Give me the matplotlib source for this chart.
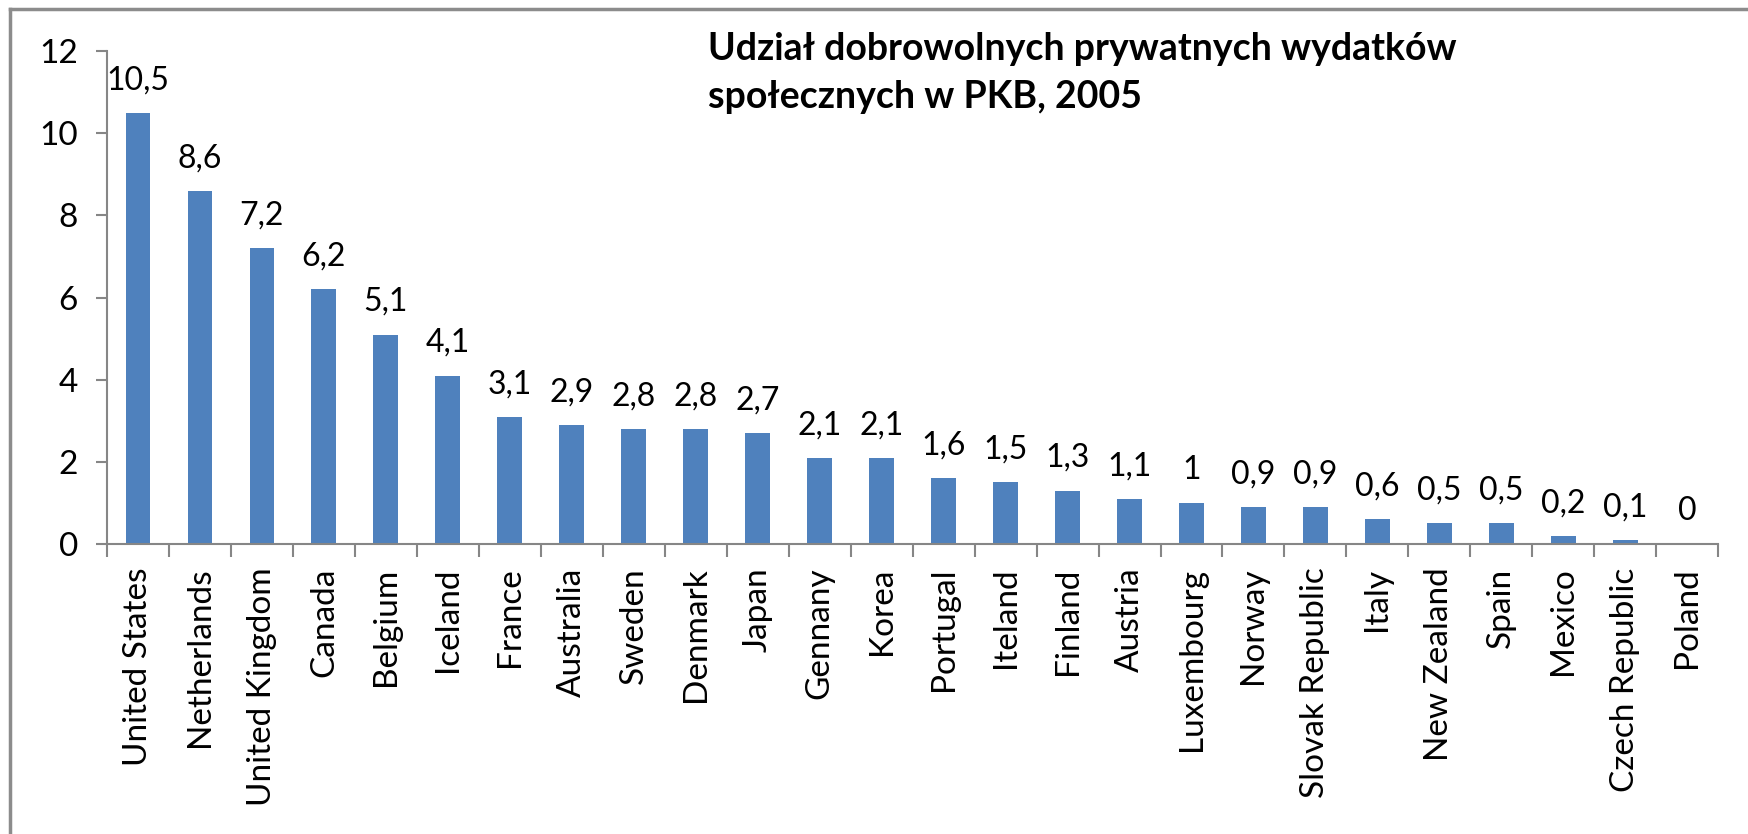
import numpy as np
import matplotlib.pyplot as plt
from matplotlib.lines import Line2D

countries = ['United States', 'Netherlands', 'United Kingdom', 'Canada', 'Belgium',
             'Iceland', 'France', 'Australia', 'Sweden', 'Denmark', 'Japan',
             'Gennany', 'Korea', 'Portugal', 'Iteland', 'Finland', 'Austria',
             'Luxembourg', 'Norway', 'Slovak Republic', 'Italy', 'New Zealand',
             'Spain', 'Mexico', 'Czech Republic', 'Poland']
values = [10.5, 8.6, 7.2, 6.2, 5.1, 4.1, 3.1, 2.9, 2.8, 2.8, 2.7, 2.1, 2.1,
          1.6, 1.5, 1.3, 1.1, 1.0, 0.9, 0.9, 0.6, 0.5, 0.5, 0.2, 0.1, 0.0]
yticks = [0, 2, 4, 6, 8, 10, 12]
title = 'Udział dobrowolnych prywatnych wydatków\nspołecznych w PKB, 2005'

plt.rcParams['font.family'] = ['Lato', 'DejaVu Sans']
grey = '#868686'

fig = plt.figure(figsize=(17.48, 8.34), dpi=100)
ax = fig.add_axes([0.0612, 0.3477, 0.9218, 0.5911])

x = np.arange(len(countries))
ax.bar(x, values, width=0.4, color='#4F81BD')

ax.set_xlim(-0.5, len(countries) - 0.5)
ax.set_ylim(0, 12)
ax.set_yticks(yticks)
ax.set_yticklabels([str(t) for t in yticks], fontsize=24)
ax.set_xticks(x)
ax.set_xticklabels(countries, rotation=90, fontsize=24)
ax.tick_params(axis='x', length=0, pad=17)
ax.set_xticks(np.arange(len(countries) + 1) - 0.5, minor=True)
ax.tick_params(axis='x', which='minor', length=9, color=grey, width=1.5)
ax.tick_params(axis='y', length=8, color=grey, width=1.5, pad=13)

for s in ['top', 'right']:
    ax.spines[s].set_visible(False)
for s in ['left', 'bottom']:
    ax.spines[s].set_color(grey)
    ax.spines[s].set_linewidth(1.5)

for xi, v in zip(x, values):
    lab = ('%g' % v).replace('.', ',')
    ax.annotate(lab, (xi, v), xytext=(0, 17), textcoords='offset points',
                ha='center', va='baseline', fontsize=23)

fig.text(0.405, 0.962, title, fontsize=27, fontweight='bold', ha='left', va='top',
         linespacing=1.5)

# frame round the chart
fig.add_artist(Line2D([0.006, 1.0], [0.989, 0.989], color='#8c8c8c', lw=2.5,
                      transform=fig.transFigure))
fig.add_artist(Line2D([0.006, 0.006], [0.0, 0.989], color='#8c8c8c', lw=2.5,
                      transform=fig.transFigure))

fig.savefig('out.png', dpi=100)
